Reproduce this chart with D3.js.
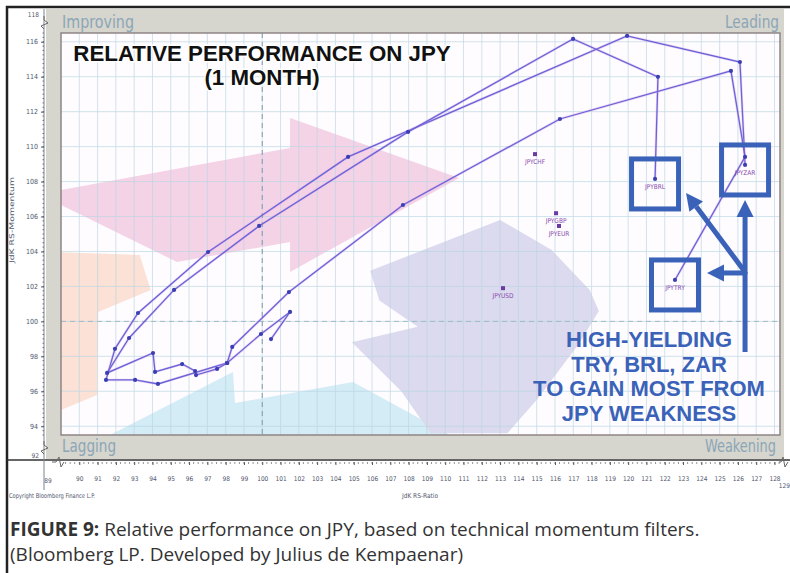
<!DOCTYPE html>
<html><head><meta charset="utf-8">
<script src="https://cdn.jsdelivr.net/npm/d3@7"></script>
<style>body{margin:0;background:#fff}svg{display:block}</style>
</head><body><svg id="c" width="790" height="573"></svg>
<script>
// ---------------- data ----------------
const xTickValues = d3.range(90, 129);           // RS-Ratio ticks
const yTickValues = d3.range(94, 117, 2);        // RS-Momentum ticks
const xBreakLabels = ["89", "129"];
const yBreakLabels = ["118", "92"];

// trails (oldest first), [RS-Ratio, RS-Momentum]
const trailZAR = [[100.48,98.99],[101.52,100.54],[99.93,99.28],[98.08,97.62],[94.30,96.42],[93.05,96.65],[91.46,96.65],[91.95,98.43],[93.21,100.48],[97.04,103.97],[104.69,109.41],[119.94,116.33],[126.11,114.84],[126.39,108.95]];
const trailBRL = [[98.08,97.62],[97.53,97.28],[96.38,96.93],[96.33,97.16],[95.62,97.56],[94.14,97.11],[94.03,98.19],[91.52,97.05],[92.72,99.05],[95.18,101.80],[99.83,105.46],[107.97,110.84],[116.99,116.16],[121.63,113.99],[121.47,108.15]];
const trailTRY = [[98.08,97.62],[98.36,98.54],[101.46,101.68],[107.69,106.66],[116.27,111.58],[125.62,114.33],[126.39,109.41],[122.56,102.37]];
const trailNames = ["JPYZAR","JPYBRL","JPYTRY"];
const singleNames = ["JPYCHF","JPYGBP","JPYEUR","JPYUSD"];
const singleX = [114.91, 116.06, 116.22, 113.16];
const singleY = [109.57, 106.19, 105.46, 101.90];

// background shapes (RS-Ratio, RS-Momentum)
const shapePink = [[89.0,107.52],[101.52,109.92],[101.52,111.64],[110.76,108.20],[101.52,102.83],[101.52,104.54],[95.34,103.40],[89.0,106.66]];
const shapePeach = [[89.0,103.95],[93.3,103.8],[93.9,101.8],[91.03,100.54],[90.97,95.79],[89.0,94.93]];
const shapeBlue = [[91.68,93.5],[98.40,97.11],[98.51,95.33],[104.96,96.53],[110.26,93.5]];
const shapeLav = [[105.9,102.9],[113.0,105.8],[115.8,104.1],[117.9,101.8],[118.4,100.6],[117.3,98.7],[115.0,95.5],[113.4,93.6],[109.2,93.6],[107.6,96.0],[104.9,98.8],[108.5,99.7],[106.4,101.2]];

const titleLines = ["RELATIVE PERFORMANCE ON JPY", "(1 MONTH)"];
const noteLines = ["HIGH-YIELDING", "TRY, BRL, ZAR", "TO GAIN MOST FROM", "JPY WEAKNESS"];
const quadrantLabels = ["Improving", "Leading", "Lagging", "Weakening"];

// ---------------- drawing ----------------
const svg = d3.select("#c");
const x = d3.scaleLinear().domain([89, 128.3]).range([61, 780]);
const y = d3.scaleLinear().domain([93.5, 116.5]).range([435, 33]);
const P = {l: 61, r: 780, t: 33, b: 435};

// outer black border
svg.append("path").attr("d", "M7,573 L7,7 L790,7").attr("fill", "none").attr("stroke", "#222").attr("stroke-width", 2.5);

// gray frame
svg.append("rect").attr("x", 46).attr("y", 9).attr("width", 738).attr("height", 450).attr("fill", "#d6d5ce");
svg.append("rect").attr("x", P.l).attr("y", P.t).attr("width", P.r - P.l).attr("height", P.b - P.t).attr("fill", "#fefcfe");

const plot = svg.append("g");
const line = d3.line().x(d => x(d[0])).y(d => y(d[1]));
const poly = pts => line(pts) + "Z";
plot.append("path").attr("d", poly(shapePink)).attr("fill", "#f5d3e7");
plot.append("path").attr("d", poly(shapePeach)).attr("fill", "#fbe1d6");
plot.append("path").attr("d", poly(shapeBlue)).attr("fill", "#d4ecf6");
plot.append("path").attr("d", poly(shapeLav)).attr("fill", "#dcdaee");

// grid
const grid = svg.append("g").attr("stroke", "#b9d6e2").attr("stroke-width", 0.8).attr("opacity", 0.8);
grid.selectAll("line.v").data(xTickValues).join("line")
  .attr("x1", d => x(d)).attr("x2", d => x(d)).attr("y1", P.t).attr("y2", P.b);
grid.selectAll("line.h").data(yTickValues).join("line")
  .attr("y1", d => y(d)).attr("y2", d => y(d)).attr("x1", P.l).attr("x2", P.r);
svg.append("line").attr("x1", x(100)).attr("x2", x(100)).attr("y1", P.t).attr("y2", P.b)
  .attr("stroke", "#7f9aa8").attr("stroke-width", 1).attr("stroke-dasharray", "5,4");
svg.append("line").attr("y1", y(100)).attr("y2", y(100)).attr("x1", P.l).attr("x2", P.r)
  .attr("stroke", "#9fbac6").attr("stroke-width", 1).attr("stroke-dasharray", "5,4");
svg.append("rect").attr("x", P.l).attr("y", P.t).attr("width", P.r - P.l).attr("height", P.b - P.t)
  .attr("fill", "none").attr("stroke", "#8f8585").attr("stroke-width", 1.5);

// quadrant labels
const qStyle = (s, len) => s.attr("font-family", "'DejaVu Sans Condensed','Liberation Sans Narrow',sans-serif").attr("font-size", 17.5)
  .attr("fill", "#8ba6b6").attr("textLength", len).attr("lengthAdjust", "spacingAndGlyphs");
qStyle(svg.append("text").attr("x", 62).attr("y", 28).text(quadrantLabels[0]), 72);
qStyle(svg.append("text").attr("x", 725).attr("y", 28).text(quadrantLabels[1]), 54);
qStyle(svg.append("text").attr("x", 62).attr("y", 452).text(quadrantLabels[2]), 54);
qStyle(svg.append("text").attr("x", 705).attr("y", 452).text(quadrantLabels[3]), 71);

// title
const tg = svg.append("g").attr("font-family", "'Liberation Sans',Arial,sans-serif").attr("font-weight", "bold")
  .attr("font-size", 22.3).attr("text-anchor", "middle").attr("fill", "#111");
titleLines.forEach((t, i) => {
  tg.append("text").attr("x", 262).attr("y", 61 + i * 24).text(t)
    .attr("stroke", "#fff").attr("stroke-width", 3).attr("paint-order", "stroke");
});

// trails
const trails = [trailZAR, trailBRL, trailTRY];
const tGroup = svg.append("g");
trails.forEach(tr => {
  tGroup.append("path").attr("d", line(tr)).attr("fill", "none").attr("stroke", "#e08adf").attr("stroke-width", 2.6).attr("opacity", 0.35);
  tGroup.append("path").attr("d", line(tr)).attr("fill", "none").attr("stroke", "#6466d8").attr("stroke-width", 1.3);
  tGroup.selectAll(null).data(tr).join("circle").attr("cx", d => x(d[0])).attr("cy", d => y(d[1])).attr("r", 2.1).attr("fill", "#3b3fb4");
});
const labStyle = s => s.attr("font-family", "'DejaVu Sans Condensed',sans-serif").attr("font-size", 6.5).attr("fill", "#8a4bb0").attr("text-anchor", "middle");
trails.forEach((tr, i) => {
  const e = tr[tr.length - 1];
  labStyle(tGroup.append("text").attr("x", x(e[0])).attr("y", y(e[1]) + 10).text(trailNames[i]));
});
singleNames.forEach((n, i) => {
  tGroup.append("rect").attr("x", x(singleX[i]) - 2).attr("y", y(singleY[i]) - 2).attr("width", 4).attr("height", 4).attr("fill", "#6a3aa0");
  labStyle(tGroup.append("text").attr("x", x(singleX[i])).attr("y", y(singleY[i]) + 10).text(n));
});

// annotation boxes and arrows
const blue = "#3a62b8";
const ends = trails.map(tr => tr[tr.length - 1]);
const ann = svg.append("g");
ends.forEach(e => {
  ann.append("rect").attr("x", x(e[0]) - 23.5).attr("y", y(e[1]) - 20).attr("width", 47).attr("height", 50)
    .attr("fill", "none").attr("stroke", blue).attr("stroke-width", 5);
});
const zar = ends[0], brl = ends[1], tryE = ends[2];
const jx = x(zar[0]), jy = y(tryE[1]) - 8;   // arrow junction
function arrow(x1, y1, x2, y2) {
  const a = Math.atan2(y2 - y1, x2 - x1), L = 17, W = 8.5;
  const bx = x2 - L * Math.cos(a), by = y2 - L * Math.sin(a);
  ann.append("line").attr("x1", x1).attr("y1", y1).attr("x2", bx).attr("y2", by).attr("stroke", blue).attr("stroke-width", 5);
  ann.append("path").attr("d", `M${x2},${y2} L${bx + W * Math.sin(a)},${by - W * Math.cos(a)} L${bx - W * Math.sin(a)},${by + W * Math.cos(a)}Z`).attr("fill", blue);
}
ann.append("line").attr("x1", jx).attr("x2", jx).attr("y1", 352).attr("y2", jy).attr("stroke", blue).attr("stroke-width", 5);
arrow(jx, jy + 2, jx, y(zar[1]) + 35);
arrow(jx, jy, x(brl[0]) + 31, y(brl[1]) + 14);
arrow(jx, jy + 1, x(tryE[0]) + 32, jy + 1);
const ng = svg.append("g").attr("font-family", "'Liberation Sans',Arial,sans-serif").attr("font-weight", "bold")
  .attr("font-size", 22).attr("text-anchor", "middle").attr("fill", blue);
noteLines.forEach((t, i) => ng.append("text").attr("x", 649).attr("y", 347 + i * 24.5).text(t));

// axes
const axisColor = "#50566c";
svg.append("line").attr("x1", 7).attr("x2", 790).attr("y1", 460).attr("y2", 460).attr("stroke", "#333").attr("stroke-width", 1.5);
svg.append("line").attr("x1", 44).attr("x2", 44).attr("y1", 9).attr("y2", 490).attr("stroke", "#7a8290").attr("stroke-width", 1);
// y axis
const yAx = d3.axisLeft(y).tickValues(yTickValues).tickSize(3).tickFormat(d3.format("d"));
const yg = svg.append("g").attr("transform", "translate(44,0)").call(yAx);
yg.select(".domain").remove();
yg.selectAll("text").attr("font-size", 7).attr("fill", axisColor).attr("font-family", "'DejaVu Sans Condensed',sans-serif");
yg.selectAll("line").attr("stroke", axisColor);
svg.append("g").selectAll("line").data(d3.range(93.5, 116.6, 0.25)).join("line")
  .attr("x1", 42.5).attr("x2", 44).attr("y1", d => y(d)).attr("y2", d => y(d)).attr("stroke", "#555").attr("stroke-width", 0.8);
// x axis
const xAx = d3.axisBottom(x).tickValues(xTickValues).tickSize(3).tickFormat(d3.format("d"));
const xg = svg.append("g").attr("transform", "translate(0,462)").call(xAx);
xg.select(".domain").remove();
xg.selectAll("text").attr("font-size", 6.5).attr("fill", axisColor).attr("y", 14).attr("dy", "0.71em").attr("font-family", "'DejaVu Sans Condensed',sans-serif");
xg.selectAll("line").attr("stroke", axisColor);
svg.append("g").selectAll("line").data(d3.range(89.25, 128.3, 0.25)).join("line")
  .attr("y1", 462).attr("y2", 464).attr("x1", d => x(d)).attr("x2", d => x(d)).attr("stroke", "#666").attr("stroke-width", 0.7);
// break labels
const bl = s => s.attr("font-size", 6.5).attr("fill", axisColor).attr("font-family", "'DejaVu Sans Condensed',sans-serif");
bl(svg.append("text").attr("x", 48).attr("y", 483).attr("text-anchor", "middle").text(xBreakLabels[0]));
bl(svg.append("text").attr("x", 790).attr("y", 488).attr("text-anchor", "end").attr("font-size", 5.5).text(xBreakLabels[1]));
bl(svg.append("text").attr("x", 39).attr("y", 17).attr("text-anchor", "end").text(yBreakLabels[0]));
bl(svg.append("text").attr("x", 39).attr("y", 458).attr("text-anchor", "end").text(yBreakLabels[1]));
const zz = d => svg.append("path").attr("d", d).attr("fill", "none").attr("stroke", "#666").attr("stroke-width", 1);
zz("M44,16 L44,20 L48,23 L41,26 L44,29");
zz("M44,441 L44,445 L48,448 L41,451 L44,454");
zz("M52,462 L56,462 L59,457 L61,467 L64,462");
zz("M779,462 L781,462 L783,457 L785,467 L788,462");
// axis titles
bl(svg.append("text").attr("x", 420).attr("y", 498).attr("text-anchor", "middle").attr("font-size", 7).text("JdK RS-Ratio"));
bl(svg.append("text").attr("transform", "translate(14,220) rotate(-90)").attr("text-anchor", "middle").attr("font-size", 8)
  .attr("textLength", 86).attr("lengthAdjust", "spacingAndGlyphs").text("JdK RS-Momentum"));
bl(svg.append("text").attr("x", 9).attr("y", 498).attr("font-size", 6).attr("textLength", 86).attr("lengthAdjust", "spacingAndGlyphs")
  .text("Copyright Bloomberg Finance L.P."));

// caption
const capFont = "'Open Sans','Noto Sans',sans-serif";
const cap1 = svg.append("text").attr("x", 10).attr("y", 536).attr("font-family", capFont).attr("font-size", 19).attr("fill", "#333");
cap1.append("tspan").attr("font-weight", "bold").text("FIGURE 9:");
cap1.append("tspan").text("  Relative performance on JPY, based on technical momentum filters.");
svg.append("text").attr("x", 10).attr("y", 561).attr("font-family", capFont).attr("font-size", 19).attr("fill", "#333")
  .text("(Bloomberg LP. Developed by Julius de Kempaenar)");
</script></body></html>
